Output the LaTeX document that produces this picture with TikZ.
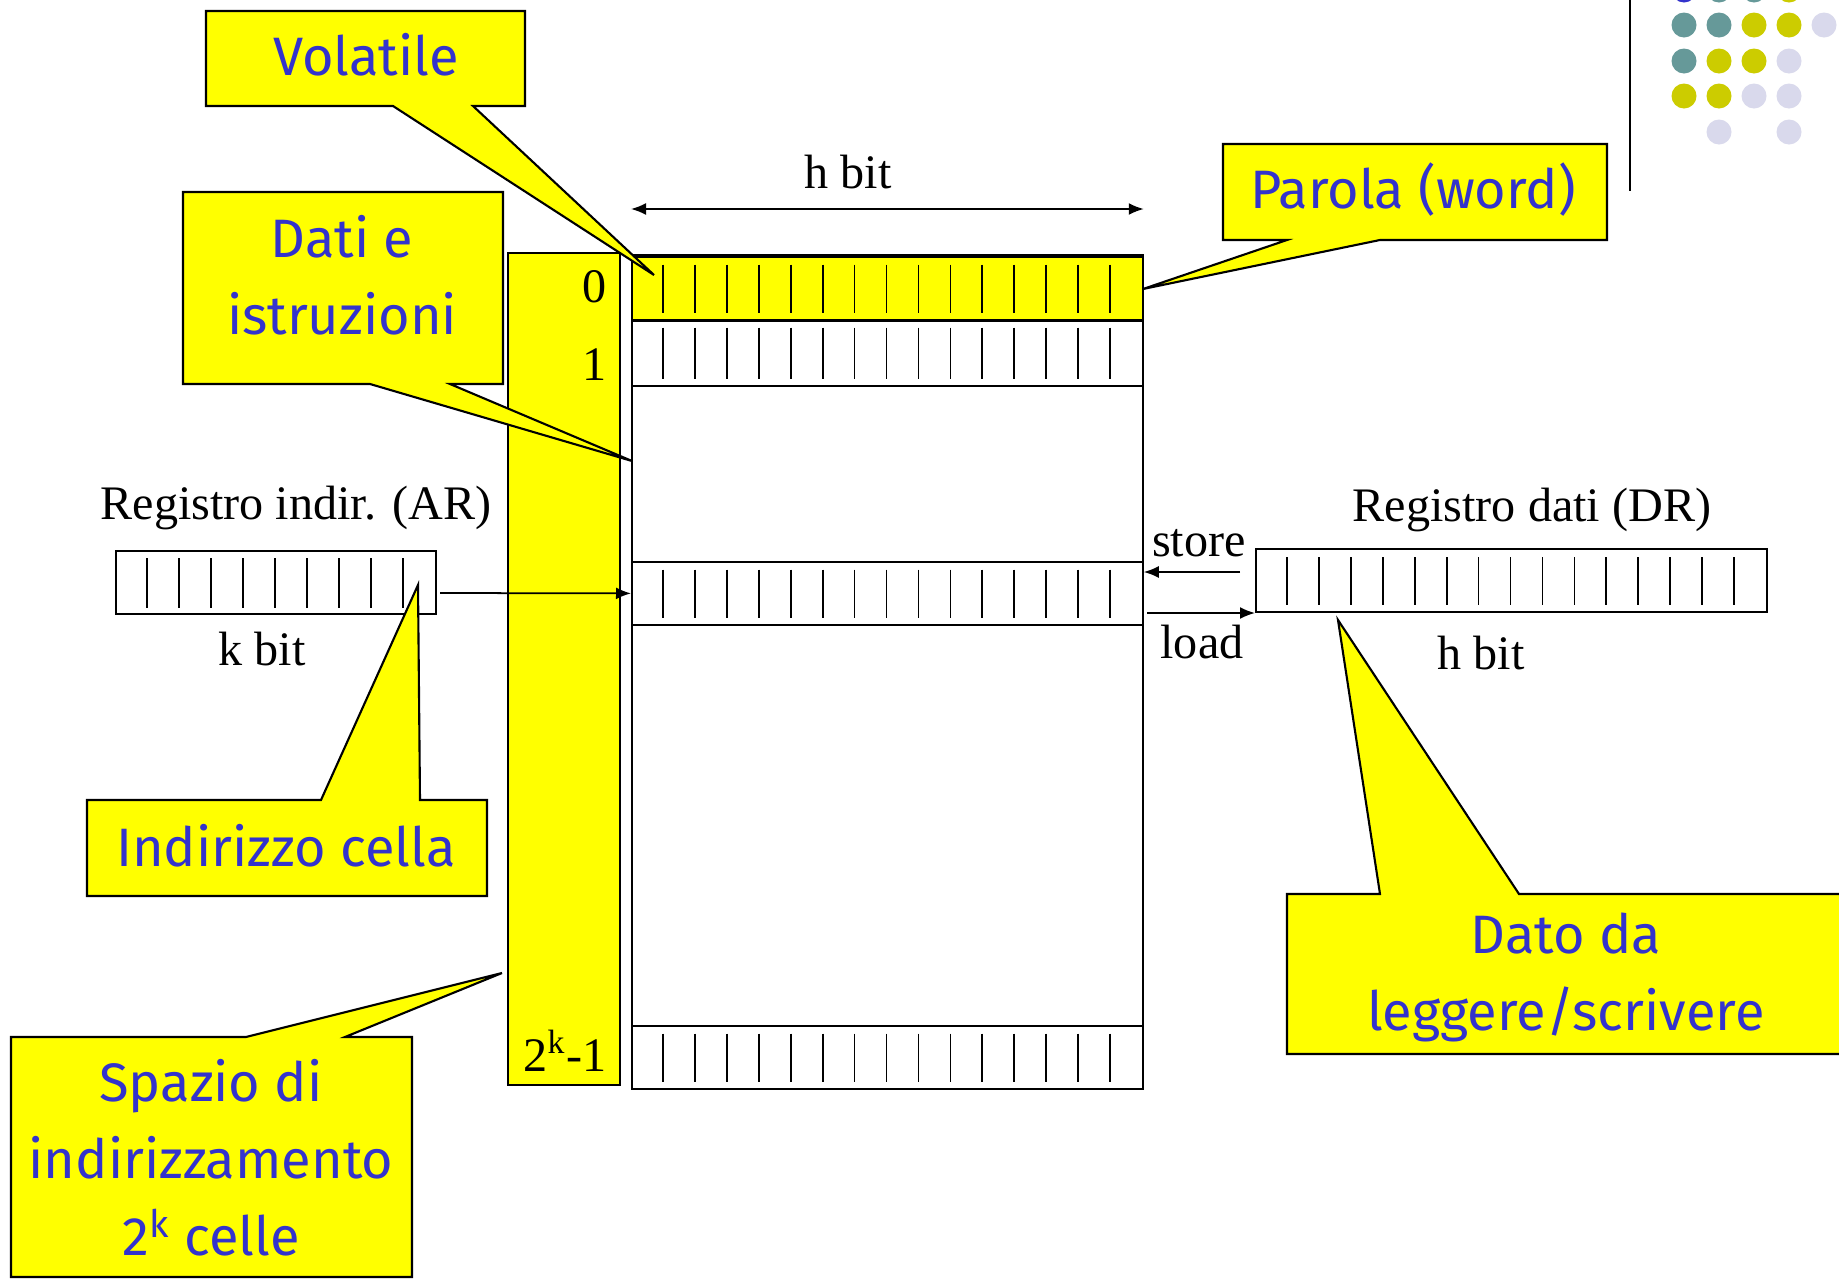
\documentclass[tikz,border=0pt]{standalone}
\usepackage{fontspec}
\setmainfont{Liberation Serif}
\newfontfamily\notefont{Fira Sans}
\usetikzlibrary{arrows.meta,positioning}
\definecolor{noteblue}{RGB}{51,51,204}
\definecolor{noteyellow}{RGB}{255,255,0}
\definecolor{dotteal}{RGB}{102,153,153}
\definecolor{dotolive}{RGB}{204,204,0}
\definecolor{dotlilac}{RGB}{217,217,236}
\tikzset{
  lbl/.style={font=\fontsize{13.7}{16}\selectfont, inner sep=0pt},
  note/.style={font=\notefont\fontsize{15.4}{21.9}\selectfont, text=noteblue, align=center, inner sep=0pt},
  callout/.style={fill=noteyellow, draw=black, line width=0.6pt, line join=miter},
  cell/.style={draw=black, line width=0.5pt, inner sep=0pt, anchor=north west},
  tick/.style={line width=0.5pt},
  arr/.style={-{Latex[length=1.5mm,width=1.2mm]}, line width=0.5pt},
}
\begin{document}
\begin{tikzpicture}[x=0.1mm,y=-0.1mm]
\useasboundingbox (0,0) rectangle (1839,1280);
\clip (0,0) rectangle (1839,1280);
\fill[white] (0,0) rectangle (1839,1280);
% title fragments, rule and dots
\node[anchor=base, text=noteblue, font=\notefont\bfseries\fontsize{30}{36}\selectfont, inner sep=0pt] (tl) at (1138,-17) {(};
\node[anchor=base, text=noteblue, font=\notefont\bfseries\fontsize{30}{36}\selectfont, inner sep=0pt] (tr) at (1331,-17) {)};
\draw[line width=0.6pt] (1630,0) -- (1630,191);
\foreach \x/\y/\c in {1684/-10/noteblue,1719/-10/dotteal,1754/-10/dotteal,1789/-10/dotolive,
  1684/25/dotteal,1719/25/dotteal,1754/25/dotolive,1789/25/dotolive,1824/25/dotlilac,
  1684/61/dotteal,1719/61/dotolive,1754/61/dotolive,1789/61/dotlilac,
  1684/96/dotolive,1719/96/dotolive,1754/96/dotlilac,1789/96/dotlilac,
  1719/132/dotlilac,1789/132/dotlilac}
  \fill[\c] (\x,\y) circle (1.25mm);
% address column and memory
\node[cell, fill=noteyellow, minimum width=11.2mm, minimum height=83.2mm] (col) at (507,252) {};
\node[cell, minimum width=51.1mm, minimum height=83.2mm] (mem) at (631,256) {};
\node[cell, fill=noteyellow, minimum width=51.1mm, minimum height=6.3mm] (row0) at (631,256) {};
\draw[line width=0.9pt] (row0.north west) -- (row0.north east) (row0.south west) -- (row0.south east);
\node[cell, minimum width=51.1mm, minimum height=6.6mm] (row1) at (631,319) {};
\node[cell, minimum width=51.1mm, minimum height=6.3mm] (rowi) at (631,561) {};
\node[cell, minimum width=51.1mm, minimum height=6.3mm] (rowl) at (631,1025) {};
\foreach \r in {row0,row1,rowi,rowl}
  \foreach \i in {1,...,15}
    \draw[tick] ([xshift=\i*3.194mm,yshift=-0.85mm]\r.north west) -- ([xshift=\i*3.194mm,yshift=0.75mm]\r.south west);
\node[lbl, anchor=east] (n0) at (607,287) {0};
\node[lbl, anchor=east] (n1) at (607,365) {1};
\node[lbl, anchor=east] (nl) at (607,1051) {2\textsuperscript{k}-1};
\node[lbl] (hbit) at (848,172) {h bit};
\draw[{Latex[length=1.5mm,width=1.2mm]}-{Latex[length=1.5mm,width=1.2mm]}, line width=0.5pt] (mem.west |- 0,209) -- (mem.east |- 0,209);
% registers
\node[cell, minimum width=32mm, minimum height=6.3mm] (ar) at (115,550) {};
\foreach \i in {1,...,9}
  \draw[tick] ([xshift=\i*3.2mm,yshift=-0.8mm]ar.north west) -- ([xshift=\i*3.2mm,yshift=0.7mm]ar.south west);
\node[lbl] (arname) at (296,508) {Registro indir. (AR)};
\node[lbl] (kbit) at (262,649) {k bit};
\node[cell, minimum width=51.1mm, minimum height=6.3mm] (dr) at (1255,548) {};
\foreach \i in {1,...,15}
  \draw[tick] ([xshift=\i*3.194mm,yshift=-0.9mm]dr.north west) -- ([xshift=\i*3.194mm,yshift=0.8mm]dr.south west);
\node[lbl] (drname) at (1532,510) {Registro dati (DR)};
\node[lbl] (hbit2) at (1481,653) {h bit};
\coordinate (arout) at (440,593);
\draw[arr] (arout) -- (rowi.west);
\node[lbl] (store) at (1199,543) {store};
\node[lbl] (load) at (1202,642) {load};
\coordinate (stin) at (1240,572);
\coordinate (ldout) at (1147,613);
\draw[arr] (stin) -- (mem.east |- stin);
\draw[arr] (ldout) -- (dr.west |- ldout);
% callouts
\draw[callout] (206,11) -- (525,11) -- (525,106) -- (473,106) -- (654,275) -- (393,106) -- (206,106) -- cycle;
\node[note] (vol) at (366,55) {Volatile};
\draw[callout] (183,192) -- (503,192) -- (503,384) -- (450,384) -- (632,461) -- (370,384) -- (183,384) -- cycle;
\node[note] (dati) at (342,275) {Dati e\\istruzioni};
\draw[callout] (1223,144) -- (1607,144) -- (1607,240) -- (1380,240) -- (1143,289) -- (1287,240) -- (1223,240) -- cycle;
\node[note] (word) at (1413,190) {Parola (word)};
\draw[callout] (87,800) -- (321,800) -- (418,585) -- (420,800) -- (487,800) -- (487,896) -- (87,896) -- cycle;
\node[note] (addr) at (286,846) {Indirizzo cella};
\draw[callout] (11,1037) -- (246,1037) -- (502,973) -- (345,1037) -- (412,1037) -- (412,1277) -- (11,1277) -- cycle;
\node[note] (space) at (211,1158) {Spazio di\\indirizzamento\\2\textsuperscript{k} celle};
\draw[callout] (1287,894) -- (1380,894) -- (1338,620) -- (1519,894) -- (1850,894) -- (1850,1054) -- (1287,1054) -- cycle;
\node[note] (dato) at (1566,977) {Dato da\\leggere/scrivere};
\end{tikzpicture}
\end{document}
